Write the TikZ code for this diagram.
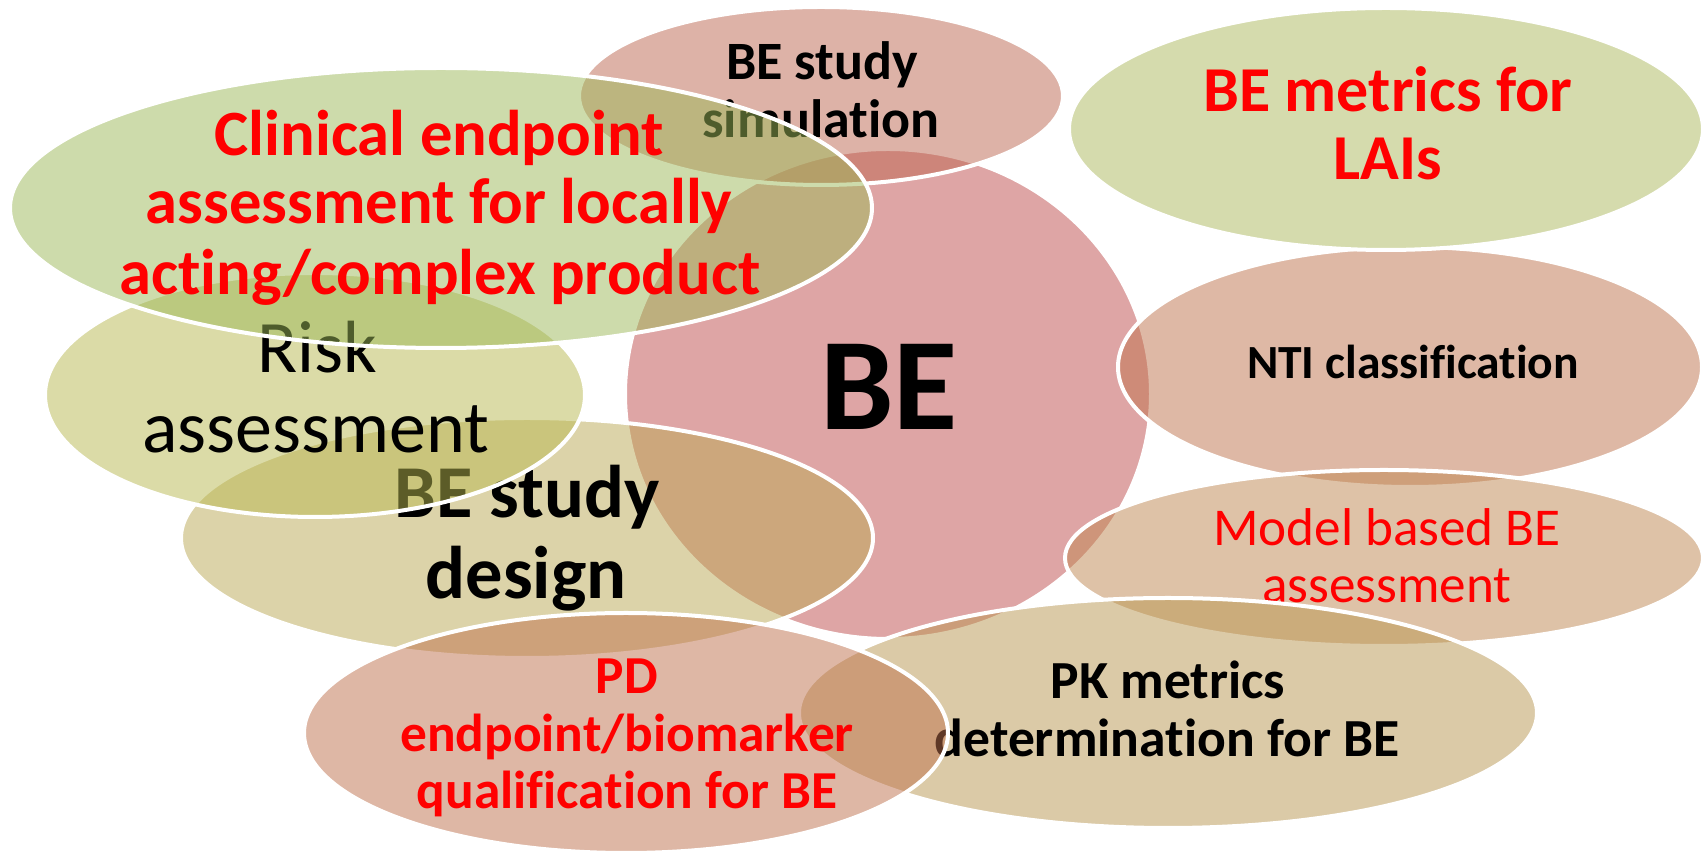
\documentclass[tikz,border=0pt]{standalone}
\usepackage{fontspec}
\setmainfont{Carlito}[Ligatures=NoCommon, RawFeature=-liga]
\definecolor{cBE}{RGB}{191,77,77}
\definecolor{cSim}{RGB}{189,103,81}
\definecolor{cClin}{RGB}{157,185,89}
\definecolor{cLAI}{RGB}{173,185,93}
\definecolor{cRisk}{RGB}{185,185,81}
\definecolor{cDes}{RGB}{187,169,85}
\definecolor{cNTI}{RGB}{191,115,77}
\definecolor{cMod}{RGB}{191,135,81}
\definecolor{cPK}{RGB}{185,151,81}
\definecolor{cPD}{RGB}{191,113,77}
\definecolor{txtred}{RGB}{255,0,0}
\tikzset{
  venn/.style={fill=#1, fill opacity=0.5, draw=white, draw opacity=1, line width=2pt},
  lbl/.style={inner sep=0pt, anchor=base},
  bsz/.style={font=\bfseries\fontsize{#1}{#1}\selectfont},
  rsz/.style={font=\fontsize{#1}{#1}\selectfont},
}
\begin{document}
\begin{tikzpicture}[x=0.5pt,y=-0.5pt]
\useasboundingbox (0,0) rectangle (1705,854);
\fill[white] (0,0) rectangle (1705,854);
\clip (0,0) rectangle (1705,854);
% BE circle
\path[venn=cBE] (888,394) ellipse [x radius=263, y radius=245];
\node[lbl, bsz=65.7] (be) at (889,430) {BE};
% simulation
\path[venn=cSim] (821,96) ellipse [x radius=242, y radius=89];
\node[lbl, bsz=27] (sim1) at (822,80) {BE study};
\node[lbl, bsz=27] (sim2) at (821,138) {simulation};
% NTI
\path[venn=cNTI] (1410,367) ellipse [x radius=292, y radius=120];
\node[lbl, bsz=23.8] (nti) at (1413,379) {NTI classification};
% LAI
\path[venn=cLAI] (1386,129) ellipse [x radius=317, y radius=121];
\node[lbl, bsz=32, text=txtred] (lai1) at (1388,112) {BE metrics for};
\node[lbl, bsz=32, text=txtred] (lai2) at (1388,180) {LAIs};
% Model
\path[venn=cMod] (1384,558) ellipse [x radius=319, y radius=88];
\node[lbl, rsz=26.6, text=txtred] (mod1) at (1387,546) {Model based BE};
\node[lbl, rsz=26.6, text=txtred] (mod2) at (1387,603) {assessment};
% PK
\path[venn=cPK] (1168,713) ellipse [x radius=369, y radius=115];
\node[lbl, bsz=26.8] (pk1) at (1168,699) {PK metrics};
\node[lbl, bsz=26.8] (pk2) at (1167,757) {determination for BE};
% study design
\path[venn=cDes] (527,538) ellipse [x radius=346, y radius=120];
\node[lbl, bsz=37.3] (des1) at (527,518) {BE study};
\node[lbl, bsz=37.3] (des2) at (526,599) {design};
% PD
\path[venn=cPD] (626,733) ellipse [x radius=322, y radius=120];
\node[lbl, bsz=26.7, text=txtred] (pd1) at (627,694) {PD};
\node[lbl, bsz=26.7, text=txtred] (pd2) at (627,752) {endpoint/biomarker};
\node[lbl, bsz=26.7, text=txtred] (pd3) at (627,809) {qualification for BE};
% Risk
\path[venn=cRisk] (315,395) ellipse [x radius=270, y radius=122];
\node[lbl, rsz=37] (risk1) at (317,373) {Risk};
\node[lbl, rsz=37] (risk2) at (316,453) {assessment};
% Clinical
\path[venn=cClin] (441,208) ellipse [x radius=431, y radius=140];
\node[lbl, bsz=32.3, text=txtred] (clin1) at (439,156) {Clinical endpoint};
\node[lbl, bsz=32.3, text=txtred] (clin2) at (439,224) {assessment for locally};
\node[lbl, bsz=32.3, text=txtred] (clin3) at (440,295) {acting/complex product};
\end{tikzpicture}
\end{document}
